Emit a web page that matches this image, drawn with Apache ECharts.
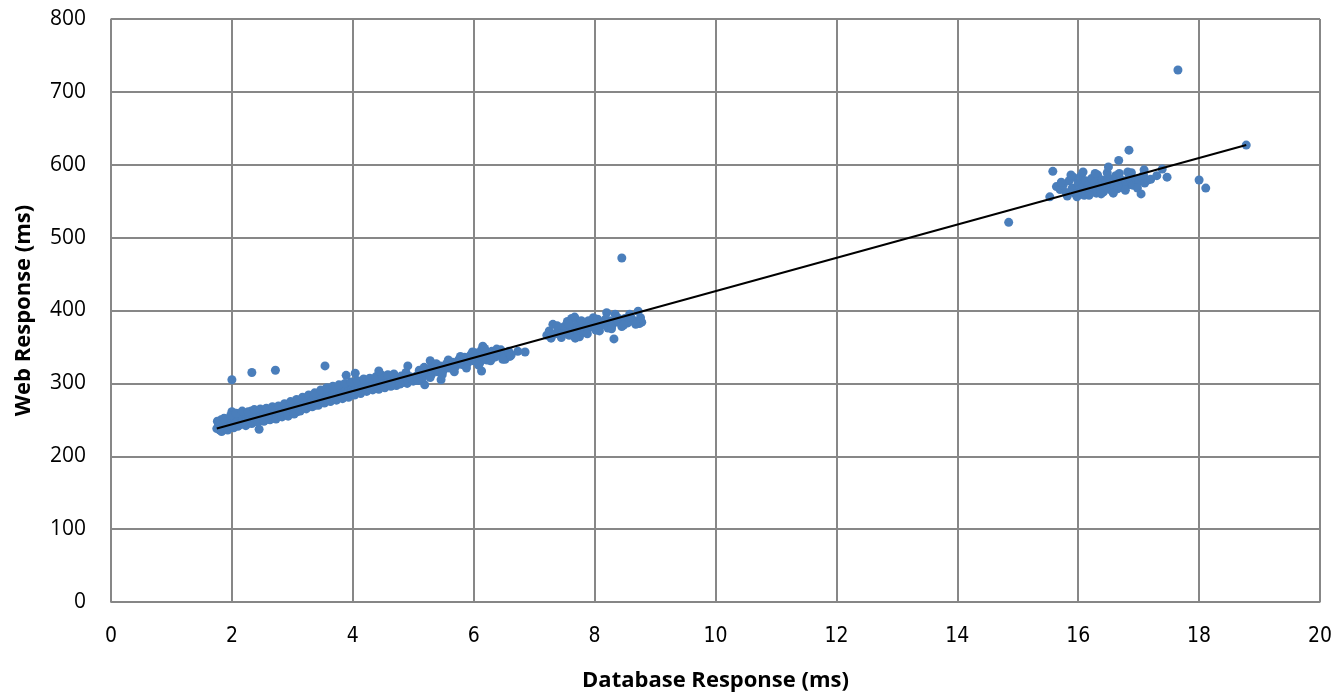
<!DOCTYPE html>
<html>
<head>
<meta charset="utf-8">
<script src="https://cdn.jsdelivr.net/npm/echarts@6/dist/echarts.min.js"></script>
<style>
  html, body { margin: 0; padding: 0; background: #fff; }
  #chart { width: 1341px; height: 692px; }
</style>
</head>
<body>
<div id="chart"></div>
<script>
// database response (ms) of each request
var dbMs = [
  // ~2 ms cluster
  1.75, 1.78, 1.8, 1.82, 1.85, 1.88, 1.9, 1.92, 1.95, 1.97, 2.0, 2.0, 2.02, 2.05, 2.08, 2.1,
  2.12, 2.15, 2.18, 2.2, 2.22, 2.25, 2.28, 2.3, 2.32, 2.35, 2.38, 2.4, 2.42, 2.45, 2.48, 2.5,
  2.52, 2.55, 2.58, 2.6, 2.62, 2.65, 2.68, 2.7, 2.72, 2.75, 2.78, 2.8, 2.82, 2.85, 2.88, 2.9,
  2.92, 2.95, 2.98, 3.0, 3.02, 3.05, 3.08, 3.1, 3.12, 3.15, 3.18, 3.2, 3.22, 3.25, 3.28, 3.3,
  1.76, 1.83, 1.87, 1.93, 1.98, 2.03, 2.07, 2.13, 2.17, 2.23, 2.27, 2.33, 2.37, 2.43, 2.47, 2.53,
  2.57, 2.63, 2.67, 2.73, 2.77, 2.83, 2.87, 2.93, 2.97, 3.03, 3.07, 3.13, 3.17, 3.23, 3.27,
  2.0, 2.33, 2.72,
  // ~4 ms cluster
  3.32, 3.35, 3.38, 3.4, 3.42, 3.45, 3.48, 3.5, 3.52, 3.55, 3.58, 3.6, 3.62, 3.65, 3.68, 3.7,
  3.72, 3.75, 3.78, 3.8, 3.82, 3.85, 3.88, 3.9, 3.92, 3.95, 3.98, 4.0, 4.02, 4.05, 4.08, 4.1,
  4.15, 4.2, 4.25, 4.3, 4.35, 4.4, 4.45, 4.5, 4.55, 4.6, 4.65, 4.7, 4.72, 4.75, 4.8, 4.82,
  4.85, 4.9, 4.95, 5.0,
  3.33, 3.37, 3.43, 3.47, 3.53, 3.57, 3.63, 3.67, 3.73, 3.77, 3.83, 3.87, 3.93, 3.97, 4.03, 4.07,
  4.13, 4.18, 4.23, 4.28, 4.33, 4.38, 4.43, 4.48, 4.53, 4.58, 4.63, 4.68, 4.78, 4.88, 4.98,
  3.54, 3.89, 4.04, 4.43, 4.91, 5.28, 5.19, 5.46,
  // ~6 ms cluster
  5.05, 5.1, 5.15, 5.2, 5.25, 5.3, 5.35, 5.4, 5.45, 5.5, 5.55, 5.6, 5.65, 5.7, 5.75, 5.8,
  5.85, 5.9, 5.95, 6.0, 6.02, 6.05, 6.1, 6.12, 6.15, 6.2, 6.22, 6.25, 6.3, 6.35, 6.4, 6.45,
  6.5, 6.52, 6.55, 6.6, 6.73, 6.85, 6.15, 6.13,
  5.08, 5.18, 5.28, 5.38, 5.48, 5.58, 5.68, 5.78, 5.88, 5.98, 6.08, 6.18, 6.28, 6.38, 6.48, 6.58,
  6.62,
  // ~8 ms cluster
  7.21, 7.25, 7.31, 7.35, 7.4, 7.45, 7.5, 7.52, 7.55, 7.58, 7.6, 7.62, 7.65, 7.67, 7.7, 7.72,
  7.75, 7.78, 7.8, 7.82, 7.85, 7.88, 7.9, 7.95, 8.0, 8.02, 8.05, 8.1, 8.15, 8.2, 8.22, 8.25,
  8.3, 8.32, 8.34, 8.4, 8.45, 8.5, 8.55, 8.6, 8.65, 8.72, 8.74, 8.78, 8.45,
  7.28, 7.38, 7.48, 7.58, 7.68, 7.78, 7.88, 7.98, 8.08, 8.18, 8.28, 8.38, 8.48, 8.58, 8.68, 8.76,
  // ~16 ms cluster
  14.85, 15.53, 15.58, 15.64,
  15.7, 15.75, 15.8, 15.85, 15.9, 15.92, 15.95, 16.0, 16.02, 16.05, 16.08, 16.1, 16.12, 16.15,
  16.18, 16.2, 16.22, 16.25, 16.28, 16.3, 16.32, 16.35, 16.38, 16.4, 16.42, 16.45, 16.48, 16.5,
  16.52, 16.55, 16.58, 16.6, 16.62, 16.65, 16.68, 16.7, 16.72, 16.75, 16.78, 16.8, 16.85, 16.88,
  16.9, 16.95, 17.0, 17.05, 17.1, 17.15,
  15.72, 15.82, 15.88, 15.98, 16.08, 16.18, 16.28, 16.38, 16.48, 16.58, 16.68, 16.78, 16.88, 16.98,
  17.08, 17.2, 17.3,
  16.5, 16.67, 16.84, 16.82, 17.09, 17.39, 17.47, 17.04, 18.0, 18.11, 18.78, 17.65
];

// web response (ms), same order as dbMs
var webMs = [
  238, 244, 236, 250, 240, 246, 238, 243, 252, 247, 240, 261, 255, 245, 250, 241,
  256, 248, 252, 244, 258, 249, 255, 246, 262, 251, 257, 248, 253, 237, 259, 252,
  256, 250, 262, 255, 259, 253, 264, 257, 261, 255, 263, 258, 265, 260, 268, 262,
  257, 266, 270, 263, 273, 267, 261, 270, 276, 266, 272, 278, 268, 274, 280, 271,
  248, 234, 252, 236, 256, 239, 259, 243, 262, 242, 261, 245, 264, 247, 265, 248,
  266, 250, 268, 251, 269, 254, 272, 255, 275, 258, 278, 262, 281, 265, 284,
  305, 315, 318,
  276, 282, 270, 278, 285, 274, 280, 288, 276, 292, 283, 278, 287, 281, 293, 284,
  278, 289, 284, 294, 286, 281, 291, 287, 297, 283, 292, 288, 300, 294, 289, 297,
  292, 301, 295, 299, 293, 304, 297, 302, 296, 306, 300, 308, 297, 304, 310, 301,
  306, 300, 309, 303,
  268, 287, 270, 291, 273, 294, 275, 296, 277, 298, 279, 300, 281, 302, 284, 304,
  286, 306, 289, 307, 291, 309, 292, 311, 294, 312, 296, 313, 299, 315, 306,
  324, 311, 314, 317, 324, 331, 298, 305,
  310, 318, 307, 315, 320, 312, 322, 316, 324, 318, 327, 321, 329, 323, 332, 326,
  336, 328, 339, 331, 342, 335, 328, 345, 337, 341, 332, 338, 344, 336, 340, 346,
  338, 333, 342, 337, 344, 343, 351, 317,
  304, 322, 308, 327, 312, 332, 316, 337, 321, 343, 325, 348, 331, 347, 333, 344,
  339,
  366, 372, 381, 368, 375, 363, 378, 370, 385, 366, 374, 389, 369, 391, 380, 372,
  364, 377, 383, 370, 379, 374, 386, 378, 382, 373, 388, 379, 384, 397, 376, 386,
  381, 361, 395, 384, 378, 389, 383, 391, 386, 399, 382, 384, 472,
  362, 379, 368, 381, 362, 386, 368, 390, 372, 388, 375, 390, 380, 395, 381, 390,
  521, 556, 591, 570,
  566, 572, 562, 578, 568, 583, 560, 575, 565, 585, 570, 558, 578, 566,
  574, 562, 581, 569, 576, 561, 586, 571, 566, 579, 563, 574, 568, 582,
  571, 565, 577, 570, 585, 567, 575, 580, 569, 574, 578, 571, 583, 576,
  572, 580, 577, 583, 575, 579,
  576, 557, 586, 556, 590, 558, 588, 560, 589, 561, 588, 565, 589, 568,
  586, 580, 585,
  597, 606, 620, 590, 593, 594, 583, 560, 579, 568, 627, 730
];

// linear trendline ends
var trendX = [1.75, 18.78];
var trendY = [238, 627];

var xTicks = [0, 20, 2];
var yTicks = [0, 800, 100];

var points = dbMs.map(function (x, i) { return [x, webMs[i]]; });
var trend = trendX.map(function (x, i) { return [x, trendY[i]]; });

var gridColor = '#878787';
var labelFont = '"Open Sans", "Liberation Sans", sans-serif';

var myChart = echarts.init(document.getElementById('chart'));

option = {
  animation: false,
  grid: { left: 111, right: 21, top: 19, bottom: 90, containLabel: false, outerBoundsMode: 'none' },
  xAxis: {
    type: 'value',
    min: xTicks[0], max: xTicks[1], interval: xTicks[2],
    name: 'Database Response (ms)',
    nameLocation: 'middle',
    nameGap: 68,
    nameTextStyle: { fontFamily: labelFont, fontWeight: 'bold', fontSize: 22, color: '#000' },
    axisLine: { lineStyle: { color: gridColor, width: 1.5 } },
    axisTick: { show: false },
    axisLabel: { fontFamily: '"Liberation Sans Narrow", "DejaVu Sans Condensed", sans-serif', fontSize: 21, color: '#000', margin: 24 },
    splitLine: { lineStyle: { color: gridColor, width: 2 } }
  },
  yAxis: {
    type: 'value',
    min: yTicks[0], max: yTicks[1], interval: yTicks[2],
    name: 'Web Response (ms)',
    nameLocation: 'middle',
    nameGap: 76,
    nameTextStyle: { fontFamily: labelFont, fontWeight: 'bold', fontSize: 22, color: '#000' },
    axisLine: { show: true, lineStyle: { color: gridColor, width: 1.5 } },
    axisTick: { show: false },
    axisLabel: { fontFamily: labelFont, fontSize: 21, color: '#000', margin: 25 },
    splitLine: { lineStyle: { color: gridColor, width: 2 } }
  },
  series: [
    {
      type: 'scatter',
      data: points,
      symbol: 'circle',
      symbolSize: 9,
      itemStyle: { color: '#4a7ebb', opacity: 1 },
      z: 2
    },
    {
      type: 'line',
      data: trend,
      showSymbol: false,
      lineStyle: { color: '#000', width: 2 },
      z: 3
    }
  ]
};

myChart.setOption(option);
</script>
</body>
</html>
